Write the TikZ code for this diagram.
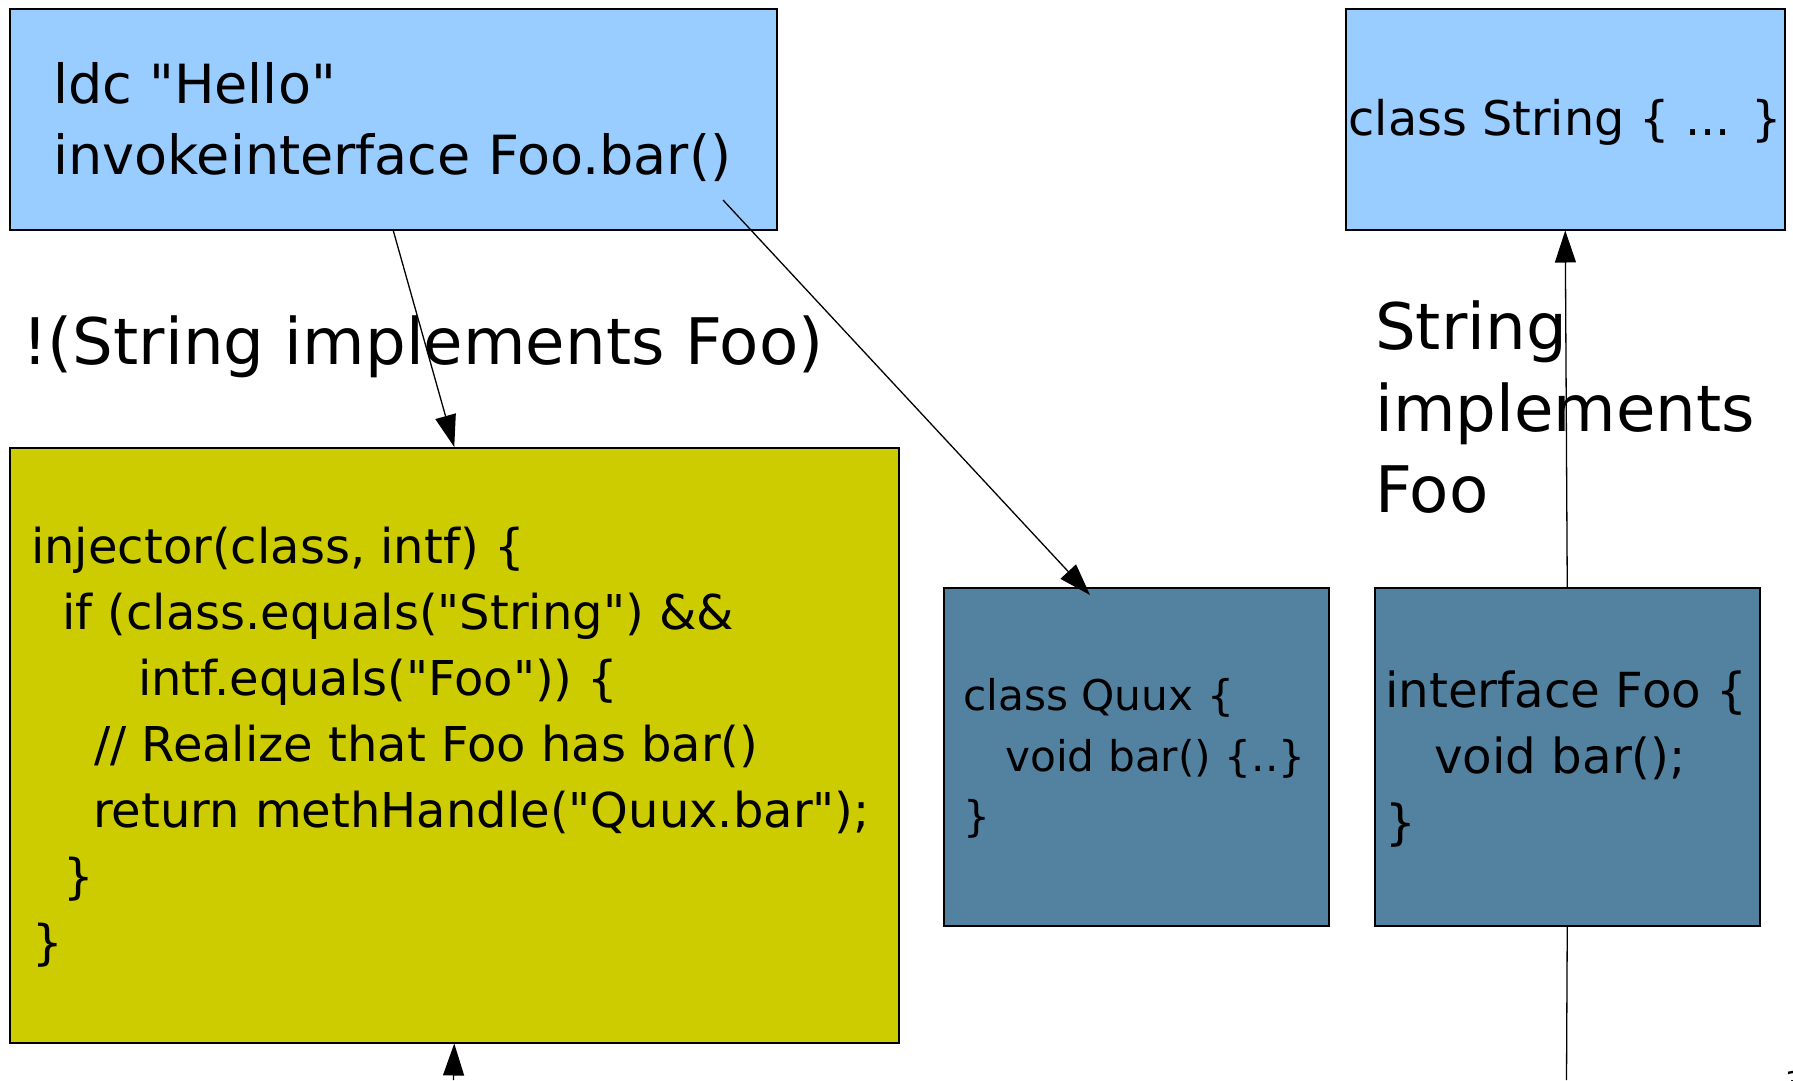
\documentclass[tikz,border=0pt]{standalone}
\usepackage{fontspec}
\setmainfont{DejaVu Sans}[Ligatures=TeXOff]
\usetikzlibrary{arrows.meta}
\definecolor{lightblue}{HTML}{99CCFF}
\definecolor{olivebox}{HTML}{CCCC00}
\definecolor{steelbox}{HTML}{5382A1}
\begin{document}
\begin{tikzpicture}[x=1pt,y=-1pt,
  box/.style={draw=black, line width=1.5pt, inner sep=0pt, anchor=north west},
  conn/.style={line width=1.3pt, -{Triangle[length=32pt,width=21pt]}},
  plain/.style={line width=1.3pt},
  txt/.style={anchor=base west, inner sep=0pt},
  fA/.style={font=\fontsize{54}{64}\selectfont},
  fL/.style={font=\fontsize{64.2}{76}\selectfont},
  fY/.style={font=\fontsize{48}{58}\selectfont},
  fQ/.style={font=\fontsize{42.3}{50}\selectfont},
  fF/.style={font=\fontsize{48.3}{57}\selectfont},
  fS/.style={font=\fontsize{47.7}{57}\selectfont}]
\useasboundingbox (0,0) rectangle (1793,1080);
\clip (0,0) rectangle (1793,1080);
\fill[white] (0,0) rectangle (1793,1080);

% boxes
\node[box, fill=lightblue, minimum width=767pt, minimum height=221pt] (top) at (9,8) {};
\node[box, fill=lightblue, minimum width=439pt, minimum height=221pt] (string) at (1345,8) {};
\node[box, fill=olivebox, minimum width=889pt, minimum height=595pt] (yellow) at (9,447) {};
\node[box, fill=steelbox, minimum width=385pt, minimum height=338pt] (quux) at (943,587) {};
\node[box, fill=steelbox, minimum width=385pt, minimum height=338pt] (foo) at (1374,587) {};

% top box text
\node[txt, fA] (t1) at (53,103) {ldc "Hello"};
\node[txt, fA] (t2) at (53,174) {invokeinterface Foo.bar()};

% String box text
\node[anchor=base, inner sep=0pt, fS] (s1) at (1565,135) {class String \{ ... \}};

% labels
\node[txt, fL] (l1) at (22,364) {!(String implements Foo)};
\node[txt, fL] (r1) at (1375,349) {String};
\node[txt, fL] (r2) at (1375,431) {implements};
\node[txt, fL] (r3) at (1375,512) {Foo};

% yellow box text
\node[txt, fY] (y1) at (31,563) {injector(class, intf) \{};
\node[txt, fY] (y2) at (62,629) {if (class.equals("String") \&\&};
\node[txt, fY] (y3) at (138,695) {intf.equals("Foo")) \{};
\node[txt, fY] (y4) at (94,761) {// Realize that Foo has bar()};
\node[txt, fY] (y5) at (93,827) {return methHandle("Quux.bar");};
\node[txt, fY] (y6) at (63,893) {\}};
\node[txt, fY] (y7) at (32,959) {\}};

% Quux box text
\node[txt, fQ] (q1) at (963,710) {class Quux \{};
\node[txt, fQ] (q2) at (1005,771) {void bar() \{..\}};
\node[txt, fQ] (q3) at (963,831) {\}};

% Foo box text
\node[txt, fF] (f1) at (1385,707) {interface Foo \{};
\node[txt, fF] (f2) at (1434,773) {void bar();};
\node[txt, fF] (f3) at (1385,839) {\}};

% page number fragment
\node[anchor=north west, inner sep=0pt, font=\fontsize{30}{36}\selectfont] (pnum) at (1785,1071) {3};

% connectors
\coordinate (callsite) at (723,200);
\coordinate (quuxtip) at (1090,595);
\coordinate (bottomA) at (453.5,1080);
\coordinate (bottomB) at (1566.5,1080);
\draw[conn] (top.south) -- (yellow.north);
\draw[conn] (callsite) -- (quuxtip);
\draw[conn] (foo.north) -- (string.south);
\draw[plain] (foo.south) -- (bottomB);
\draw[conn] (bottomA) -- (yellow.south);
\end{tikzpicture}
\end{document}
